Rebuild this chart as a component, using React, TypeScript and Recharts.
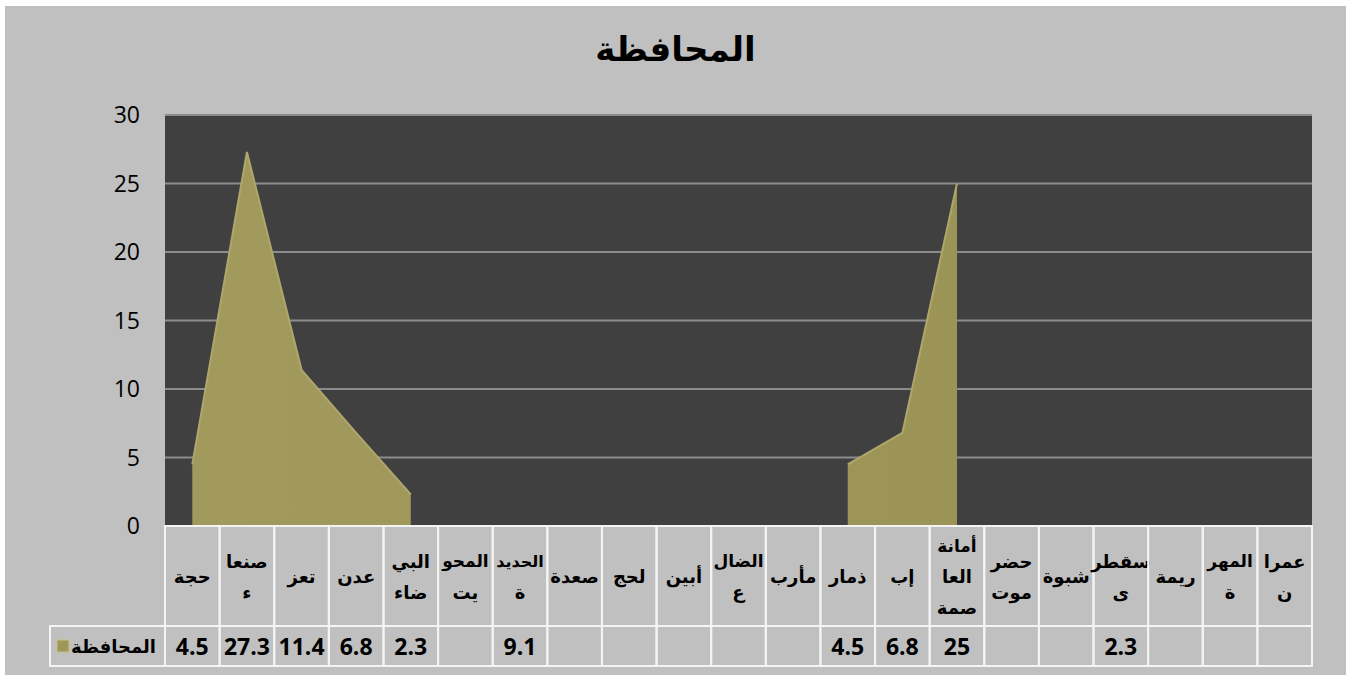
import React from "react";
import { ComposedChart, Area, XAxis, YAxis, CartesianGrid } from "recharts";

const categories = [
  "حجة", "صنعاء", "تعز", "عدن", "البيضاء", "المحويت", "الحديدة", "صعدة", "لحج", "أبين",
  "الضالع", "مأرب", "ذمار", "إب", "أمانة العاصمة", "حضرموت", "شبوة", "سقطرى", "ريمة", "المهرة", "عمران",
];

const categoryLines: string[][] = [
  ["حجة"], ["صنعا", "ء"], ["تعز"], ["عدن"], ["البي", "ضاء"], ["المحو", "يت"], ["الحديد", "ة"],
  ["صعدة"], ["لحج"], ["أبين"], ["الضال", "ع"], ["مأرب"], ["ذمار"], ["إب"], ["أمانة", "العا", "صمة"],
  ["حضر", "موت"], ["شبوة"], ["سقطر", "ى"], ["ريمة"], ["المهر", "ة"], ["عمرا", "ن"],
];

const values: (number | null)[] = [
  4.5, 27.3, 11.4, 6.8, 2.3, null, 9.1, null, null, null, null, null, 4.5, 6.8, 25, null, null, 2.3, null, null, null,
];

const yTicks = [0, 5, 10, 15, 20, 25, 30];
const seriesName = "المحافظة";
const title = "المحافظة";

const data = categories.map((name, i) => ({ name, value: values[i] }));

const W = 1341;
const H = 669;
const PLOT_LEFT = 160;
const PLOT_RIGHT = 1307;
const BW = (PLOT_RIGHT - PLOT_LEFT) / categories.length;
const HEADER_H = 100;
const VALUE_H = 40;
const FONT = "'Open Sans', 'DejaVu Sans', sans-serif";
const LINE_COLOR = "#f4f4f4";

const TableTick = (props: any) => {
  const { x, y, index } = props;
  const lines = categoryLines[index] || [];
  const v = values[index];
  const left = x - BW / 2;
  const lh = 31;
  const cy = y + HEADER_H / 2;
  const start = cy - ((lines.length - 1) * lh) / 2;
  return (
    <g>
      <rect x={left} y={y} width={BW} height={HEADER_H} fill="none" stroke={LINE_COLOR} strokeWidth={2} />
      <rect x={left} y={y + HEADER_H} width={BW} height={VALUE_H} fill="none" stroke={LINE_COLOR} strokeWidth={2} />
      {lines.map((l, i) => (
        <text key={i} x={x} y={start + i * lh} textAnchor="middle" dominantBaseline="central"
          fontFamily={FONT} fontWeight="bold" fontSize={l.length >= 6 ? 16 : l.length >= 5 ? 17 : 18} fill="#000">
          {l}
        </text>
      ))}
      {v !== null && v !== undefined ? (
        <text x={x} y={y + HEADER_H + VALUE_H / 2} textAnchor="middle" dominantBaseline="central"
          fontFamily={FONT} fontWeight="bold" fontSize={23} fill="#000">
          {String(v)}
        </text>
      ) : null}
      {index === 0 ? (
        <g>
          <rect x={45} y={y + HEADER_H} width={left - 45} height={VALUE_H} fill="none" stroke={LINE_COLOR} strokeWidth={2} />
          <rect x={52} y={y + HEADER_H + 14} width={12} height={12} fill="#9f9759" stroke="#c8c088" strokeWidth={1} />
          <text x={151} y={y + HEADER_H + VALUE_H / 2} textAnchor="end" dominantBaseline="central"
            fontFamily={FONT} fontWeight="bold" fontSize={18} fill="#000">
            {seriesName}
          </text>
        </g>
      ) : null}
    </g>
  );
};

export default function App() {
  return (
    <div style={{ position: "absolute", left: 0, top: 0, width: 1346, height: 675, background: "#ffffff" }}>
      <div style={{ position: "absolute", left: 5, top: 6, width: W, height: H, background: "#c0c0c0" }}>
        <ComposedChart width={W} height={H} data={data}
          margin={{ top: 109, right: W - PLOT_RIGHT, left: 100, bottom: 9 }}>
          <defs>
            <linearGradient id="areaFill" x1="0" y1="0" x2="1" y2="0">
              <stop offset="0%" stopColor="#a29a5d" />
              <stop offset="100%" stopColor="#9b9356" />
            </linearGradient>
          </defs>
          <CartesianGrid vertical={false} stroke="#8c8c8c" strokeWidth={2} fill="#404040" />
          <XAxis dataKey="name" scale="band" axisLine={false} tickLine={false} tickSize={0} tickMargin={0}
            interval={0} height={HEADER_H + VALUE_H} tick={<TableTick />} />
          <YAxis domain={[0, 30]} ticks={yTicks} width={60} axisLine={false} tickLine={false}
            tickSize={0} tickMargin={25}
            tick={{ fill: "#000", fontSize: 23, fontFamily: FONT }} />
          <Area type="linear" dataKey="value" fill="url(#areaFill)" fillOpacity={1} stroke="#aea66c"
            strokeWidth={2} connectNulls={false} dot={false} activeDot={false} isAnimationActive={false} />
        </ComposedChart>
        <div style={{ position: "absolute", left: 0, width: W, top: 19, textAlign: "center",
          fontFamily: FONT, fontWeight: "bold", fontSize: 34, color: "#000", lineHeight: "46px" }}>
          {title}
        </div>
      </div>
    </div>
  );
}
